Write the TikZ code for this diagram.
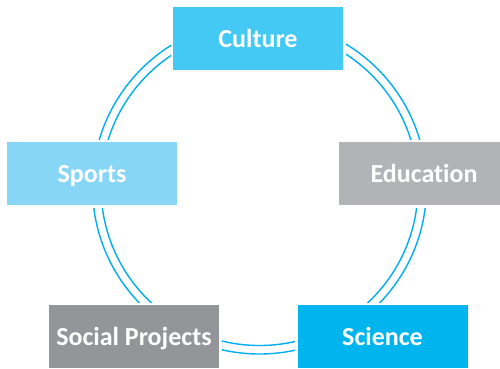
\documentclass[tikz,border=0pt]{standalone}
\usepackage{fontspec}
\setmainfont[Ligatures={NoCommon,NoRare}]{Carlito}
\definecolor{cculture}{RGB}{68,200,244}
\definecolor{csports}{RGB}{136,214,246}
\definecolor{ceducation}{RGB}{177,179,182}
\definecolor{csocial}{RGB}{147,149,152}
\definecolor{cscience}{RGB}{0,181,238}
\definecolor{cring}{RGB}{0,174,239}
\tikzset{
  topic/.style={minimum width=170pt, minimum height=63pt, inner sep=0pt,
    text=white, font=\fontsize{26}{30}\selectfont\bfseries,
    text height=17pt, text depth=0pt,
    preaction={draw=white, line width=5pt}},
  ring/.style={draw=cring, line width=1.4pt}
}
\begin{document}
\begin{tikzpicture}[x=1pt,y=-1pt]
\useasboundingbox (0,0) rectangle (500,368);
\coordinate (ctr) at (259.5,187);
\draw[ring] (ctr) circle[radius=167];
\draw[ring] (ctr) circle[radius=158.5];
\node[topic, fill=cculture] (culture) at (258,38.5) {Culture};
\node[topic, fill=csports] (sports) at (92,173.5) {Sports};
\node[topic, fill=ceducation] (education) at (424,173.5) {Education};
\node[topic, fill=csocial] (social) at (134,336.5) {Social Projects};
\node[topic, fill=cscience] (science) at (382.5,336.5) {Science};
\end{tikzpicture}
\end{document}
